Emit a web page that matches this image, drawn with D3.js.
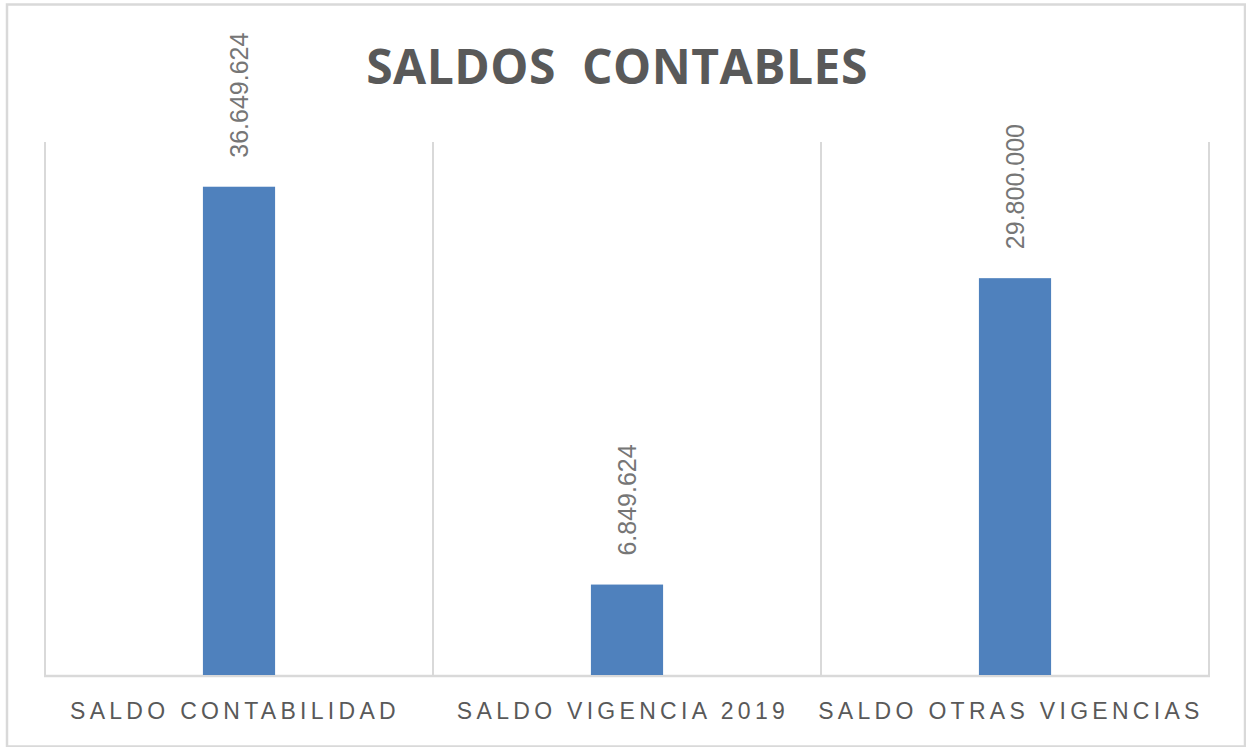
<!DOCTYPE html>
<html>
<head>
<meta charset="utf-8">
<script src="https://cdn.jsdelivr.net/npm/d3@7"></script>
<style>
  body { margin: 0; background: #fff; }
  svg { display: block; }
</style>
</head>
<body>
<svg id="chart" width="1246" height="747"></svg>
<script>
// datos del grafico
const categories = ["SALDO CONTABILIDAD", "SALDO VIGENCIA 2019", "SALDO OTRAS VIGENCIAS"];
const values = [36649624, 6849624, 29800000];
const chartTitle = "SALDOS  CONTABLES";

const svg = d3.select("#chart"),
    width = +svg.attr("width"),
    height = +svg.attr("height");

const plot = {left: 45, right: 1209, top: 142, bottom: 676};

// marco exterior
svg.append("rect")
    .attr("x", 7).attr("y", 4.5)
    .attr("width", 1238).attr("height", 742)
    .attr("fill", "none")
    .attr("stroke", "#d9d9d9")
    .attr("stroke-width", 2.5);

const x = d3.scaleBand()
    .domain(categories)
    .range([plot.left, plot.right])
    .padding(0);

const y = d3.scaleLinear()
    .domain([0, 40000000])
    .range([plot.bottom, plot.top]);

const barWidth = x.bandwidth() * 0.186;

// lineas verticales entre categorias
const bounds = categories.map(c => x(c)).concat([x(categories[categories.length - 1]) + x.bandwidth()]);
svg.append("g")
    .attr("stroke", "#d9d9d9")
    .attr("stroke-width", 2)
    .selectAll("line")
    .data(bounds)
    .join("line")
    .attr("x1", d => d).attr("x2", d => d)
    .attr("y1", y(40000000)).attr("y2", y(0));

// linea base
svg.append("line")
    .attr("x1", plot.left - 1).attr("x2", plot.right + 1)
    .attr("y1", y(0)).attr("y2", y(0))
    .attr("stroke", "#d9d9d9")
    .attr("stroke-width", 2.5);

// barras
svg.append("g")
    .selectAll("rect")
    .data(values)
    .join("rect")
    .attr("x", (d, i) => x(categories[i]) + x.bandwidth() / 2 - barWidth / 2)
    .attr("y", d => y(d))
    .attr("width", barWidth)
    .attr("height", d => y(0) - y(d) - 1)
    .attr("fill", "#4f81bd");

// etiquetas de valor (rotadas)
const fmt = d => d3.format(",")(d).replace(/,/g, ".");
svg.append("g")
    .selectAll("text")
    .data(values)
    .join("text")
    .attr("transform", (d, i) => `translate(${x(categories[i]) + x.bandwidth() / 2},${y(d) - 29}) rotate(-90)`)
    .attr("dy", "0.36em")
    .attr("font-family", "'Liberation Sans', Arial, sans-serif")
    .attr("font-size", 25)
    .attr("fill", "#767676")
    .text(fmt);

// etiquetas de categoria
svg.append("g")
    .selectAll("text")
    .data(categories)
    .join("text")
    .attr("x", d => x(d) + x.bandwidth() / 2 - 4)
    .attr("y", 719)
    .attr("text-anchor", "middle")
    .attr("font-family", "'Liberation Sans', Arial, sans-serif")
    .attr("font-size", 23)
    .attr("letter-spacing", 4.3)
    .attr("fill", "#595959")
    .text(d => d);

// titulo
svg.append("text")
    .attr("x", 617)
    .attr("y", 84)
    .attr("text-anchor", "middle")
    .attr("font-family", "'Open Sans', sans-serif")
    .attr("font-weight", "bold")
    .attr("font-size", 48)
    .attr("letter-spacing", 0.5)
    .attr("fill", "#595959")
    .style("white-space", "pre")
    .text(chartTitle);
</script>
</body>
</html>
